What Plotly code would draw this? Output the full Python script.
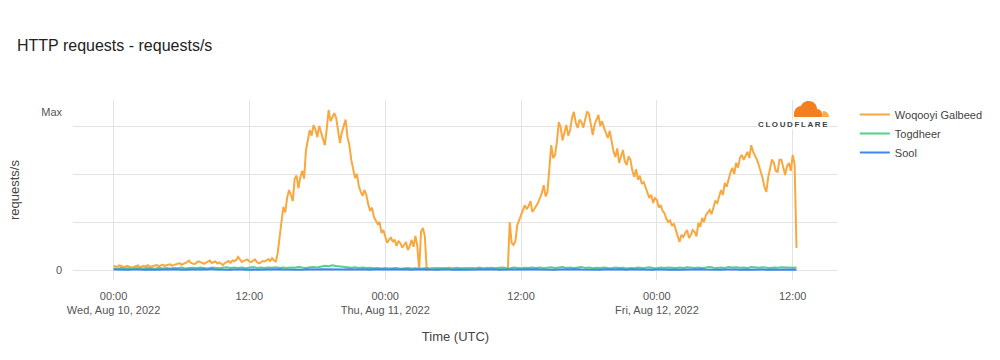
import pandas as pd
import plotly.graph_objects as go

# ---------------- data ----------------
start_time = "2022-08-10 00:00"
orange_step = "10min"
low_step = "20min"

woqooyi_galbeed = [
    2.8, 2.1, 2.0, 2.9, 2.5, 1.8, 1.6, 2.6, 2.2, 1.9,
    1.5, 2.0, 2.4, 2.9, 1.8, 2.2, 2.6, 2.1, 3.0, 2.4,
    1.9, 2.5, 2.7, 3.1, 2.3, 2.9, 3.4, 2.6, 2.8, 3.2,
    3.5, 2.7, 3.1, 3.6, 3.8, 4.3, 3.3, 3.8, 4.2, 4.9,
    5.8, 4.5, 4.0, 3.6, 4.6, 5.4, 4.9, 4.2, 3.9, 4.6,
    5.2, 5.9, 4.4, 4.9, 5.3, 4.1, 4.8, 4.0, 3.0, 4.4,
    5.1, 5.6, 4.5, 6.0, 5.6, 6.3, 8.2, 6.4, 5.0, 5.7,
    6.1, 6.6, 5.4, 4.9, 5.9, 6.5, 5.0, 4.2, 4.6, 5.6,
    5.3, 5.8, 6.7, 5.6, 7.4, 6.0, 5.3, 10.5, 21.9, 30,
    39.4, 36, 45, 50, 47, 43, 57, 59, 51, 58,
    62, 57, 75, 82, 87.5, 84, 90.6, 88, 83, 90,
    86, 81, 78, 88, 100, 93, 95.6, 98, 95, 88,
    79.4, 86, 90.6, 94, 83, 78, 68.8, 64, 57.5, 60,
    52.5, 49, 46.3, 50, 46.9, 41, 36.9, 39, 33.1, 31,
    28.8, 30, 23.1, 25, 20, 17, 18.8, 20.5, 17.5, 19,
    15, 18, 16.9, 14, 15.6, 17.5, 12.5, 15, 18.8, 14.5,
    21.3, 15, 0, 24, 26.3, 21, 0, 0.5, 0.6, 1.0,
    0.9, 0.6, 0.4, 0.8, 1.2, 0.9, 0.7, 1.1, 1.5, 1.0,
    0.8, 0.6, 0.5, 0.9, 1.1, 0.7, 0.6, 1.0, 1.3, 0.8,
    0.9, 0.6, 0.4, 0.8, 1.0, 1.2, 0.7, 0.9, 1.4, 1.0,
    0.6, 0.7, 0.8, 1.1, 0.5, 0.6, 0.9, 0.7, 0.4, 0.5,
    30, 17, 15.6, 18, 28, 31, 34.4, 37, 40.6, 38,
    40, 43, 36.3, 38, 40, 42, 45, 48, 53, 46,
    48.8, 62, 78, 70, 72, 80, 92.5, 89, 81, 86,
    90.6, 84, 87.5, 95, 98.8, 92, 88.8, 94, 92.5, 89,
    95, 99, 97.5, 90, 84.4, 91, 93.8, 97, 90, 93,
    88.8, 85, 82.5, 87, 81, 74, 70.6, 76, 66.9, 72,
    75, 68, 65.6, 71, 68.8, 62, 58.1, 63, 56.3, 59,
    53.8, 55, 51.9, 48, 45, 47, 41.9, 45, 43.8, 39,
    40.6, 37, 35.6, 32, 30, 31, 27.5, 29, 25, 21,
    17.5, 22, 20.6, 23, 25, 20, 21.9, 25, 23.8, 21,
    29.4, 27, 32.5, 30, 34.4, 36, 37.5, 35, 40, 43,
    41.9, 46, 50, 47, 54.4, 52, 57.5, 61, 63.8, 60,
    66.9, 64, 70, 72, 68.8, 71, 73.8, 70, 78, 74,
    71.9, 69, 65.6, 62, 57.5, 52, 48.8, 58, 63.8, 69,
    66.9, 62, 61.3, 69, 68.8, 64, 59.4, 65, 66.9, 62,
    71.9, 66, 13.8,
]

togdheer = [
    1.0, 0.8, 1.2, 0.9, 1.1, 0.7, 1.3, 1.0, 0.9, 1.2,
    1.1, 0.8, 1.4, 1.0, 1.2, 0.9, 1.3, 1.1, 1.5, 1.0,
    1.2, 1.4, 1.1, 1.6, 1.2, 1.0, 1.5, 1.3, 1.1, 1.4,
    1.7, 1.2, 1.5, 1.3, 1.6, 1.1, 1.4, 1.8, 1.3, 1.5,
    1.2, 1.6, 1.4, 1.7, 1.3, 1.5, 1.2, 1.6, 1.4, 1.8,
    1.5, 1.3, 1.7, 1.9, 1.6, 2.2, 2.6, 2.4, 2.9, 2.5,
    2.2, 1.9, 1.6, 1.4, 1.7, 1.3, 1.5, 1.2, 1.4, 1.1,
    1.3, 1.0, 1.2, 0.9, 1.1, 1.3, 0.8, 1.0, 1.2, 0.9,
    1.1, 0.8, 1.0, 1.2, 0.9, 1.1, 1.3, 1.0, 1.2, 0.8,
    1.1, 1.4, 1.0, 1.2, 0.9, 1.3, 1.1, 1.5, 1.0, 1.2,
    1.4, 1.1, 1.3, 1.6, 1.2, 1.0, 1.5, 1.3, 1.1, 1.4,
    1.2, 1.6, 1.3, 1.5, 1.1, 1.4, 1.7, 1.2, 1.5, 1.9,
    1.3, 1.6, 1.2, 1.4, 1.8, 1.3, 1.5, 1.1, 1.4, 1.2,
    1.6, 1.3, 1.1, 1.5, 1.2, 1.4, 1.0, 1.3, 1.1, 1.5,
    1.2, 1.4, 1.7, 1.3, 1.1, 1.5, 1.2, 1.6, 1.4, 1.2,
    1.5, 1.3, 1.7, 1.4, 1.2, 1.6, 1.3, 1.5, 1.8, 1.4,
    1.2, 1.6, 1.3, 1.9, 1.5, 1.7, 1.4, 1.6, 1.3, 1.8,
    1.5, 1.4, 1.7, 1.5, 1.3, 1.6, 1.4, 1.7, 1.5, 1.6,
    1.4, 1.5,
]

sool = [
    0.3, 0.2, 0.4, 0.3, 0.2, 0.3, 0.5, 0.3, 0.2, 0.4,
    0.3, 0.2, 0.3, 0.4, 0.2, 0.3, 0.3, 0.5, 0.2, 0.3,
    0.4, 0.3, 0.2, 0.3, 0.4, 0.3, 0.6, 0.3, 0.2, 0.4,
    0.3, 0.2, 0.3, 0.5, 0.3, 0.2, 0.4, 0.3, 0.2, 0.3,
    0.4, 0.3, 0.2, 0.3, 0.5, 0.3, 0.2, 0.4, 0.3, 0.3,
    0.2, 0.4, 0.3, 0.2, 0.3, 0.5, 0.4, 0.3, 0.4, 0.3,
    0.2, 0.3, 0.4, 0.3, 0.2, 0.3, 0.5, 0.3, 0.2, 0.4,
    0.3, 0.2, 0.3, 0.3, 0.4, 0.2, 0.3, 0.5, 0.3, 0.2,
    0.4, 0.3, 0.2, 0.3, 0.4, 0.3, 0.2, 0.3, 0.5, 0.3,
    0.2, 0.4, 0.3, 0.2, 0.3, 0.4, 0.3, 0.2, 0.3, 0.4,
    0.3, 0.5, 0.2, 0.3, 0.4, 0.3, 0.2, 0.3, 0.3, 0.4,
    0.2, 0.3, 0.5, 0.3, 0.2, 0.4, 0.3, 0.2, 0.3, 0.4,
    0.3, 0.2, 0.3, 0.5, 0.3, 0.2, 0.4, 0.3, 0.3, 0.2,
    0.4, 0.3, 0.2, 0.3, 0.5, 0.3, 0.2, 0.4, 0.3, 0.2,
    0.3, 0.4, 0.3, 0.2, 0.3, 0.5, 0.3, 0.2, 0.4, 0.3,
    0.2, 0.3, 0.4, 0.3, 0.2, 0.3, 0.5, 0.3, 0.2, 0.4,
    0.3, 0.2, 0.3, 0.4, 0.6, 0.3, 0.2, 0.4, 0.3, 0.2,
    0.3, 0.5, 0.3, 0.2, 0.4, 0.3, 0.2, 0.3, 0.4, 0.3,
    0.3, 0.2,
]

series_names = ["Woqooyi Galbeed", "Togdheer", "Sool"]
series_colors = ["#f9a83f", "#55d088", "#3f86f4"]

x_tick_times = ["2022-08-10 00:00", "2022-08-10 12:00", "2022-08-11 00:00",
                "2022-08-11 12:00", "2022-08-12 00:00", "2022-08-12 12:00"]
x_tick_labels = ["00:00<br>Wed, Aug 10, 2022", "12:00", "00:00<br>Thu, Aug 11, 2022",
                 "12:00", "00:00<br>Fri, Aug 12, 2022", "12:00"]
x_range = ["2022-08-09 20:25", "2022-08-12 16:00"]

y_grid_vals = [0, 30, 60, 90]
y_label_vals = [0, 98.75]
y_label_text = ["0", "Max"]
y_range = [-6.25, 106.25]

# ---------------- figure ----------------
times_orange = pd.date_range(start_time, periods=len(woqooyi_galbeed), freq=orange_step)
times_low = pd.date_range(start_time, periods=len(togdheer), freq=low_step)
font_family = "Arial, Liberation Sans, Helvetica, sans-serif"

fig = go.Figure()
for name, xs, vals, col in zip(series_names,
                               [times_orange, times_low, times_low],
                               [woqooyi_galbeed, togdheer, sool], series_colors):
    fig.add_trace(go.Scatter(x=xs, y=vals, name=name, mode="lines",
                             line=dict(color=col, width=2)))

fig.update_layout(
    width=1000, height=360,
    margin=dict(l=73, r=162, t=100, b=80),
    paper_bgcolor="white", plot_bgcolor="white",
    font=dict(family=font_family, size=11, color="#555555"),
    title=dict(text="HTTP requests - requests/s", x=0.017, xanchor="left",
               xref="container", y=0.875, yanchor="middle",
               font=dict(size=16, color="#222222", family=font_family)),
    showlegend=True,
    legend=dict(x=1.022, y=1.0, xanchor="left", yanchor="top",
                font=dict(size=11, color="#444444"), bgcolor="rgba(0,0,0,0)"),
)

fig.update_xaxes(
    type="date", range=x_range,
    tickmode="array", tickvals=x_tick_times, ticktext=x_tick_labels,
    showgrid=True, gridcolor="#e3e3e3", gridwidth=1,
    showline=False, zeroline=False, ticks="",
    ticklabelstandoff=8,
    tickfont=dict(size=11, color="#555555"),
    title=dict(text="Time (UTC)", font=dict(size=13, color="#444444"), standoff=16),
)

fig.update_yaxes(
    range=y_range,
    tickmode="array", tickvals=y_label_vals, ticktext=y_label_text,
    showgrid=False, zeroline=False, showline=False, ticks="",
    ticklabelstandoff=10,
    tickfont=dict(size=11, color="#555555"),
    minor=dict(tickmode="array", tickvals=y_grid_vals, showgrid=True,
               gridcolor="#e3e3e3", gridwidth=1, ticks=""),
    title=None,
)

# y-axis title as annotation
fig.add_annotation(text="requests/s", xref="paper", yref="paper",
                   x=0, y=0.5, xshift=-59, textangle=-90, showarrow=False,
                   font=dict(size=13, color="#444444"),
                   xanchor="center", yanchor="middle")

# Cloudflare logo (cloud shapes + wordmark)
cloud_main = "M -44 -17 L -16 -17 C -15 -13 -17 -9 -21 -9 C -21 -4 -25 -1 -29 -1 C -33 -1 -36 -3 -37 -6 C -41 -6 -44 -10 -44 -14 Z"
cloud_small = "M -17 -17 L -9 -17 C -9 -13 -12 -11 -15 -11 C -15 -13 -16 -15 -17 -17 Z"
for path, col in [(cloud_main, "#f38020"), (cloud_small, "#fbad41")]:
    fig.add_shape(type="path", path=path, xref="paper", yref="paper",
                  xsizemode="pixel", ysizemode="pixel", xanchor=1, yanchor=1,
                  fillcolor=col, line=dict(width=0), layer="above")

fig.add_annotation(text="<b>C\u2009L\u2009O\u2009U\u2009D\u2009F\u2009L\u2009A\u2009R\u2009E</b>",
                   xref="paper", yref="paper", x=1, y=1, xshift=-9, yshift=-24,
                   xanchor="right", yanchor="middle", showarrow=False,
                   bgcolor="white", borderpad=0,
                   font=dict(size=8, color="#404041", family=font_family))

fig.write_html("out.html", config={"displayModeBar": False},
               post_script="document.body.style.margin='0px';")
